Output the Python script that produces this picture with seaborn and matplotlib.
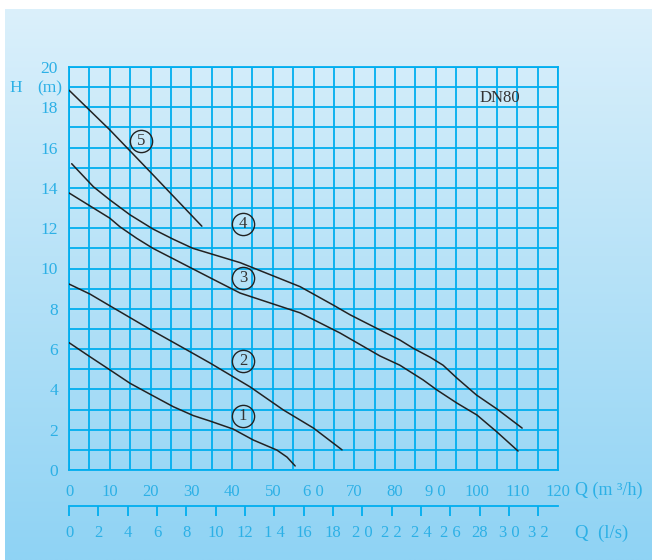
import numpy as np
import pandas as pd
import matplotlib
matplotlib.use("Agg")
import matplotlib.pyplot as plt
import seaborn as sns

# ---- data (Q in m3/h, H in m) ----
c1_q = [0, 5.15, 10.1, 15, 19.9, 25.6, 30.5, 34.6, 40.3, 45.2, 51, 53.5, 55.5]
c1_h = [6.32, 5.62, 4.96, 4.3, 3.76, 3.14, 2.7, 2.43, 2.03, 1.49, 0.99, 0.64, 0.2]
c2_q = [0, 5.15, 10.1, 19.9, 29.7, 34.6, 44.4, 52.6, 60, 67]
c2_h = [9.23, 8.73, 8.14, 6.98, 5.87, 5.31, 4.13, 2.98, 2.08, 1.0]
c3_q = [0, 10, 12.5, 16.6, 20.6, 35.4, 42, 56.7, 66.5, 76.3, 81.2, 86.9, 90.3, 95.2, 100.1, 105, 110.2]
c3_h = [13.75, 12.5, 12.07, 11.5, 11.0, 9.46, 8.78, 7.8, 6.8, 5.66, 5.2, 4.47, 3.97, 3.32, 2.73, 1.89, 0.94]
c4_q = [0.66, 5.97, 10.06, 15, 20.6, 25.5, 30.4, 42, 56.7, 64.8, 69, 76.3, 81.2, 84.4, 88.6, 91.8, 95.2, 100, 105, 111.2]
c4_h = [15.2, 14.06, 13.4, 12.66, 11.96, 11.46, 11.0, 10.29, 9.1, 8.19, 7.7, 6.95, 6.45, 6.05, 5.6, 5.2, 4.56, 3.72, 3.03, 2.08]
c5_q = [0, 10.06, 19.9, 32.6]
c5_h = [18.85, 16.87, 14.8, 12.1]

curve_names = ["1", "2", "3", "4", "5"]
label_q = [42.7, 42.7, 42.7, 42.7, 17.7]
label_h = [2.68, 5.41, 9.53, 12.2, 16.33]

top_ticks = [0, 10, 20, 30, 40, 50, 60, 70, 80, 90, 100, 110, 120]
top_labels = ["0", "10", "20", "30", "40", "50", "6 0", "70", "80", "9 0", "100", "110", "120"]
y_ticks = [0, 2, 4, 6, 8, 10, 12, 14, 16, 18, 20]
ls_ticks = [0, 2, 4, 6, 8, 10, 12, 14, 16, 18, 20, 22, 24, 26, 28, 30, 32]
ls_labels = ["0", "2", "4", "6", "8", "10", "12", "1 4", "16", "18", "2 0", "2 2", "2 4", "2 6", "28", "3 0", "3 2"]

rows = []
for name, qs, hs in zip(curve_names, [c1_q, c2_q, c3_q, c4_q, c5_q], [c1_h, c2_h, c3_h, c4_h, c5_h]):
    for i, (q, h) in enumerate(zip(qs, hs)):
        rows.append({"curve": name, "order": i, "Q": q, "H": h})
df = pd.DataFrame(rows)

# ---- style ----
sns.set_theme(style="white")
plt.rcParams["font.family"] = ["Liberation Serif", "DejaVu Serif"]
CYAN = "#00aeef"
TXT = "#2cb0e6"
INK = "#222222"

W, H = 654, 560
fig = plt.figure(figsize=(W / 100, H / 100), dpi=100)
fig.patch.set_facecolor("white")

# background gradient panel
bg = fig.add_axes([0, 0, 1, 1], zorder=0)
bg.set_xlim(0, W)
bg.set_ylim(H, 0)
bg.axis("off")
grad = np.linspace(0, 1, 256).reshape(-1, 1)
top_c = np.array([219, 240, 251]) / 255
bot_c = np.array([143, 211, 244]) / 255
img = top_c[None, None, :] * (1 - grad[:, :, None]) + bot_c[None, None, :] * grad[:, :, None]
bg.imshow(img, extent=[5, 652, H, 9], aspect="auto", interpolation="bilinear")

ax = fig.add_axes([69 / W, 1 - 470 / H, (558 - 69) / W, (470 - 67) / H], zorder=1)
ax.patch.set_alpha(0)

sns.lineplot(data=df, x="Q", y="H", hue="curve", units="curve", estimator=None,
             sort=False, palette=[INK] * 5, linewidth=1.1, legend=False, ax=ax, zorder=3)

ax.set_xlim(0, 120)
ax.set_ylim(0, 20)
ax.set_xticks(top_ticks)
ax.set_xticklabels(top_labels)
ax.set_xticks(np.arange(0, 121, 5), minor=True)
ax.set_yticks(y_ticks)
ax.set_yticklabels([str(v) for v in y_ticks])
ax.set_yticks(np.arange(0, 21, 1), minor=True)
ax.grid(which="both", color=CYAN, linewidth=1.3)
ax.set_axisbelow(True)
for s in ax.spines.values():
    s.set_color(CYAN)
    s.set_linewidth(1.3)
ax.tick_params(which="both", length=0)
ax.tick_params(axis="x", pad=10, labelsize=12, labelcolor=TXT)
ax.tick_params(axis="y", pad=8, labelsize=12.5, labelcolor=TXT)
ax.set_xlabel("")
ax.set_ylabel("")

# circled curve labels
for name, q, h in zip(curve_names, label_q, label_h):
    ax.plot([q], [h], marker="o", ms=16, mfc="none", mec=INK, mew=1.0, zorder=4)
    ax.text(q, h, name, ha="center", va="center", fontsize=12, color="#333333", zorder=5)

ax.text(105.8, 18.46, "DN80", ha="center", va="center", fontsize=12, color="#333333")

# secondary l/s axis
sec = ax.secondary_xaxis(-(506 - 470) / 403, functions=(lambda x: x / 3.6, lambda x: x * 3.6))
sec.set_xticks(ls_ticks)
sec.set_xticklabels(ls_labels)
sec.spines["bottom"].set_color(CYAN)
sec.spines["bottom"].set_linewidth(1.3)
sec.tick_params(axis="x", direction="out", length=7, width=1.3, color=CYAN,
                pad=7, labelsize=12, labelcolor=TXT)

# axis titles
fig.text(16 / W, 1 - 88 / H, "H", ha="center", va="center", fontsize=12.5, color=TXT)
fig.text(50 / W, 1 - 88 / H, "(m)", ha="center", va="center", fontsize=12.5, color=TXT)
fig.text(575 / W, 1 - 490 / H, "Q (m ³/h)", ha="left", va="center", fontsize=13, color=TXT)
fig.text(575 / W, 1 - 533 / H, "Q  (l/s)", ha="left", va="center", fontsize=13.5, color=TXT)

fig.savefig("out.png", dpi=100)
